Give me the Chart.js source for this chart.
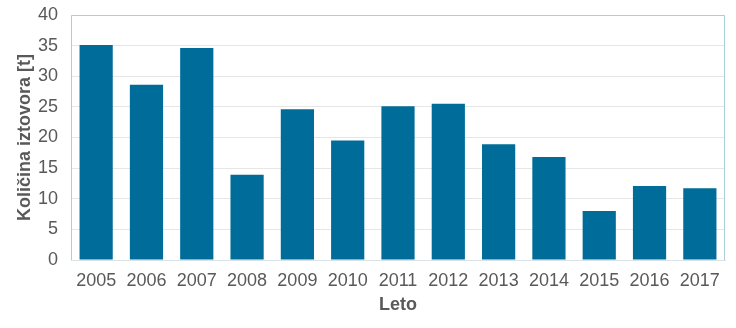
<!DOCTYPE html>
<html>
<head>
<meta charset="utf-8">
<script src="https://cdn.jsdelivr.net/npm/chart.js@4/dist/chart.umd.min.js"></script>
<style>
  html, body { margin: 0; padding: 0; background: #fff; }
  #wrap { width: 736px; height: 328px; }
</style>
</head>
<body>
<div id="wrap"><canvas id="chart"></canvas></div>
<script>
// iztovor po letih
const years = ['2005', '2006', '2007', '2008', '2009', '2010', '2011', '2012', '2013', '2014', '2015', '2016', '2017'];
const iztovor = [35.1, 28.6, 34.6, 13.9, 24.6, 19.5, 25.1, 25.5, 18.9, 16.8, 8.0, 12.1, 11.7];
const yTicks = [0, 5, 10, 15, 20, 25, 30, 35, 40];

const textColor = '#595959';
const frameColor = '#a9cfdb';
const fontFamily = 'Liberation Sans, Arial, sans-serif';

// okvir okoli risalne površine (levo, zgoraj, desno)
const frame = {
    id: 'frame',
    afterDraw(chart) {
        const { ctx, chartArea: a } = chart;
        ctx.save();
        ctx.strokeStyle = frameColor;
        ctx.lineWidth = 1;
        ctx.beginPath();
        ctx.moveTo(a.left + 0.5, a.bottom);
        ctx.lineTo(a.left + 0.5, a.top + 0.5);
        ctx.lineTo(a.right - 0.5, a.top + 0.5);
        ctx.lineTo(a.right - 0.5, a.bottom);
        ctx.stroke();
        ctx.restore();
    }
};

new Chart(document.getElementById('chart'), {
    type: 'bar',
    data: {
        labels: years,
        datasets: [{
            data: iztovor,
            backgroundColor: '#006c99',
            barPercentage: 0.66,
            categoryPercentage: 1.0
        }]
    },
    options: {
        responsive: true,
        maintainAspectRatio: false,
        animation: false,
        layout: { padding: { top: 15, right: 11, left: 8, bottom: 0 } },
        plugins: { legend: { display: false }, tooltip: { enabled: false } },
        scales: {
            x: {
                grid: { display: false, drawTicks: false },
                border: { color: '#d9e3e8' },
                ticks: {
                    color: textColor,
                    padding: 12,
                    font: { family: fontFamily, size: 18, lineHeight: 1 }
                },
                title: {
                    display: true,
                    text: 'Leto',
                    color: textColor,
                    padding: { top: 3, bottom: 14 },
                    font: { family: fontFamily, size: 18, weight: 'bold', lineHeight: 1 }
                },
                afterFit(scale) { scale.height = 68; }
            },
            y: {
                min: 0,
                max: 40,
                afterBuildTicks(scale) { scale.ticks = yTicks.map(v => ({ value: v })); },
                // nevidne oznake drže razmik med številkami in osjo
                grid: { color: '#e6e6e6', drawTicks: true, tickLength: 9, tickColor: 'rgba(0,0,0,0)' },
                border: { display: false },
                ticks: {
                    color: textColor,
                    padding: 4,
                    font: { family: fontFamily, size: 18, lineHeight: 1 }
                },
                title: {
                    display: true,
                    text: 'Količina iztovora [t]',
                    color: textColor,
                    padding: { top: 8, bottom: 0 },
                    font: { family: fontFamily, size: 18, weight: 'bold', lineHeight: 1 }
                },
                afterFit(scale) { scale.width = 63; }
            }
        }
    },
    plugins: [frame]
});
</script>
</body>
</html>
